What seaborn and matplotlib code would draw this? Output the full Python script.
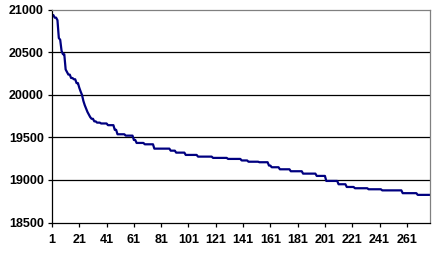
import numpy as np
import pandas as pd
import matplotlib
matplotlib.use("Agg")
import matplotlib.pyplot as plt
import seaborn as sns

levels = [20940, 20910, 20880, 20670, 20650, 20520, 20480, 20300, 20270, 20240,
          20200, 20185, 20140, 20085, 20040, 20000, 19930, 19880, 19840, 19800,
          19770, 19740, 19720, 19690, 19675, 19665, 19645, 19590, 19538, 19522,
          19471, 19436, 19420, 19369, 19345, 19322, 19295, 19275, 19260, 19248,
          19230, 19215, 19209, 19170, 19150, 19126, 19103, 19075, 19048, 18989,
          18950, 18918, 18903, 18891, 18878, 18845, 18825]
counts = [2, 2, 1, 1, 1, 1, 2, 1, 1, 2,
          2, 2, 2, 1, 1, 1, 1, 1, 1, 1,
          1, 1, 2, 2, 3, 5, 5, 2, 6, 6,
          2, 6, 7, 12, 4, 7, 9, 11, 11, 10,
          5, 8, 7, 2, 6, 8, 9, 10, 7, 9,
          6, 6, 10, 10, 15, 11, 10]

values = np.repeat(levels, counts)
index = np.arange(1, len(values) + 1)
df = pd.DataFrame({"i": index, "v": values})

x_ticks = list(range(1, 262, 20))
y_ticks = [18500, 19000, 19500, 20000, 20500, 21000]

sns.set_theme(style="white")
plt.rcParams["font.family"] = ["Liberation Sans", "DejaVu Sans"]

fig = plt.figure(figsize=(4.34, 2.54), dpi=100)
ax = fig.add_axes([52 / 434, 31.5 / 254, 378 / 434, 212.5 / 254])

sns.lineplot(data=df, x="i", y="v", ax=ax, color="#000080", linewidth=1.6)

ax.set_xlim(1, len(values))
ax.set_ylim(18500, 21000)
ax.set_xticks(x_ticks)
ax.set_xticklabels([str(t) for t in x_ticks])
ax.set_yticks(y_ticks)
ax.set_yticklabels([str(t) for t in y_ticks])
ax.set_xlabel("")
ax.set_ylabel("")

for y in y_ticks[1:-1]:
    ax.axhline(y, color="black", linewidth=0.9, zorder=1)

ax.spines["left"].set_color("black")
ax.spines["bottom"].set_color("black")
ax.spines["top"].set_color("#808080")
ax.spines["right"].set_color("#808080")
for s in ax.spines.values():
    s.set_linewidth(0.9)

ax.tick_params(axis="both", which="major", direction="out", length=3,
               width=0.9, color="black", labelsize=9, pad=3,
               bottom=True, left=True)
ax.tick_params(axis="x", pad=5.5)
for lab in ax.get_xticklabels() + ax.get_yticklabels():
    lab.set_fontweight("bold")
    lab.set_color("black")

fig.patch.set_facecolor("white")
ax.set_facecolor("white")
fig.savefig("out.png", dpi=100)
